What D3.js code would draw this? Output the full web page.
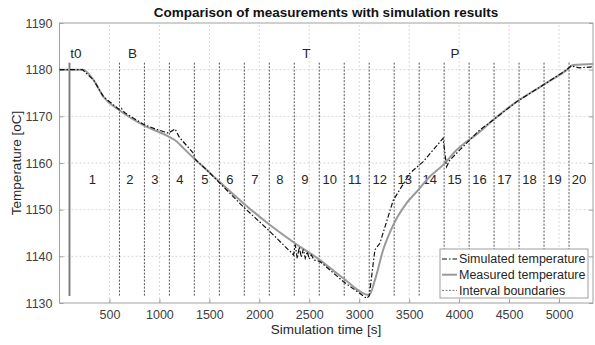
<!DOCTYPE html>
<html>
<head>
<meta charset="utf-8">
<script src="https://cdn.jsdelivr.net/npm/d3@7"></script>
<style>
  body { margin: 0; background: #fff; }
  text { font-family: "Liberation Sans", Arial, sans-serif; }
</style>
</head>
<body>
<script>
// values
const simulated = [
  [0,1180],[230,1180],[340,1177.8],[440,1174.2],[600,1171.4],[620,1171.7],[650,1170.8],
  [840,1168.3],[957,1167.3],[1090,1166.4],[1157,1167.3],[1200,1165.5],[1340,1162.1],
  [1357,1160.8],[1474,1158.5],[1590,1156.0],[1840,1150.6],[2107,1145.3],[2343,1140.3],
  [2360,1142.5],[2380,1139.5],[2400,1142],[2420,1139.8],[2440,1141.5],[2460,1139.6],
  [2480,1141],[2500,1139.4],[2520,1140.3],[2550,1139.2],[2607,1138.9],[2840,1134.6],
  [3074,1131.0],[3100,1131.5],[3157,1141.4],[3207,1142.8],[3340,1152],[3507,1157.8],
  [3640,1160.3],[3840,1165.3],[3874,1159.2],[3907,1160.6],[4007,1162.8],[4207,1167.1],
  [4340,1169.2],[4574,1173.1],[4840,1176.7],[5074,1179.9],[5120,1180.8],[5200,1180.4],[5340,1180.6]
];
const measured = [
  [0,1180],[234,1180],[340,1177.8],[440,1174.2],[607,1171.2],[840,1168.1],[1107,1165.5],
  [1174,1164.6],[1207,1163.9],[1340,1161.1],[1474,1158.5],[1590,1156.2],[1840,1151.4],
  [2107,1146.7],[2357,1142.8],[2607,1139.2],[2840,1135.3],[3100,1131.7],[3157,1134.9],
  [3240,1141.4],[3340,1146.7],[3474,1151.4],[3590,1154.2],[3707,1157.1],[3840,1159.6],
  [3900,1161.0],[3957,1162.4],[4207,1166.7],[4340,1169.2],[4574,1173.1],[4840,1176.7],
  [5074,1179.9],[5140,1181.0],[5340,1181.2]
];
const t0 = 100;
const boundaries = [600,850,1100,1350,1600,1850,2100,2350,2600,2850,3100,3350,3600,3850,4100,4350,4600,4850,5100];
const intervalNames = d3.range(1, 21).map(String);
const phaseLabels = [["t0",165],["B",730],["T",2470],["P",3960]];
const xTicks = [500,1000,1500,2000,2500,3000,3500,4000,4500,5000];
const yTicks = [1130,1140,1150,1160,1170,1180,1190];

const W = 595, H = 345;
const x = d3.scaleLinear().domain([0, 5340]).range([59.5, 593]);
const y = d3.scaleLinear().domain([1130, 1190]).range([303, 23]);

const svg = d3.select("body").append("svg").attr("width", W).attr("height", H);

// grid
svg.append("g").selectAll("line").data(xTicks).join("line")
    .attr("x1", d => x(d)).attr("x2", d => x(d)).attr("y1", y(1130)).attr("y2", y(1190))
    .attr("stroke", "#d8d8d8").attr("stroke-dasharray", "2,2");
svg.append("g").selectAll("line").data(yTicks.slice(1, -1)).join("line")
    .attr("x1", x.range()[0]).attr("x2", x.range()[1]).attr("y1", d => y(d)).attr("y2", d => y(d))
    .attr("stroke", "#d8d8d8").attr("stroke-dasharray", "2,2");

// box
svg.append("rect").attr("x", x.range()[0]).attr("y", y(1190))
    .attr("width", x.range()[1] - x.range()[0]).attr("height", y(1130) - y(1190))
    .attr("fill", "none").attr("stroke", "#a0a0a0");

// axes
svg.append("g").attr("transform", `translate(0,${y(1130)})`)
    .call(d3.axisBottom(x).tickValues(xTicks).tickSize(-4).tickPadding(7).tickFormat(d3.format("d")));
svg.append("g").attr("transform", `translate(${x.range()[0]},0)`)
    .call(d3.axisLeft(y).tickValues(yTicks).tickSize(-4).tickPadding(7).tickFormat(d3.format("d")));
svg.append("g").attr("transform", `translate(${x.range()[1]},0)`)
    .call(d3.axisRight(y).tickValues(yTicks).tickSize(-4).tickFormat(""));
svg.selectAll(".domain").remove();
svg.selectAll(".tick line").attr("stroke", "#a0a0a0");
svg.selectAll(".tick text").attr("fill", "#404040").attr("font-size", 12.5)
    .attr("font-family", "Liberation Sans, Arial, sans-serif");

// interval boundaries
svg.append("g").selectAll("line").data(boundaries).join("line")
    .attr("x1", d => x(d)).attr("x2", d => x(d)).attr("y1", y(1181.5)).attr("y2", y(1131.5))
    .attr("stroke", "#555").attr("stroke-width", 1).attr("stroke-dasharray", "2,1.5");
svg.append("line")
    .attr("x1", x(t0)).attr("x2", x(t0)).attr("y1", y(1181.5)).attr("y2", y(1131.5))
    .attr("stroke", "#808080").attr("stroke-width", 2);

// interval numbers
const edges = [t0, ...boundaries, x.domain()[1]];
svg.append("g").selectAll("text").data(intervalNames).join("text")
    .attr("x", (d, i) => x((edges[i] + edges[i + 1]) / 2) - 2)
    .attr("y", y(1156.5)).attr("dy", "0.35em").attr("text-anchor", "middle")
    .attr("font-size", 13).attr("fill", "#262626").text(d => d);

svg.append("g").selectAll("text").data(phaseLabels).join("text")
    .attr("x", d => x(d[1])).attr("y", y(1183.5)).attr("dy", "0.35em").attr("text-anchor", "middle")
    .attr("font-size", 13.5).attr("fill", "#262626").text(d => d[0]);

// curves
const line = d3.line().x(d => x(d[0])).y(d => y(d[1]));
svg.append("path").datum(measured).attr("d", line.curve(d3.curveMonotoneX))
    .attr("fill", "none").attr("stroke", "#9a9a9a").attr("stroke-width", 2);
svg.append("path").datum(simulated).attr("d", line.curve(d3.curveLinear))
    .attr("fill", "none").attr("stroke", "#111").attr("stroke-width", 1.2)
    .attr("stroke-dasharray", "5,2,1.5,2");

// title and labels
svg.append("text").attr("x", 326).attr("y", 17).attr("text-anchor", "middle")
    .attr("font-size", 13.5).attr("font-weight", "bold").attr("fill", "#111")
    .text("Comparison of measurements with simulation results");
svg.append("text").attr("x", 326).attr("y", 334).attr("text-anchor", "middle")
    .attr("font-size", 13.5).attr("fill", "#262626").text("Simulation time [s]");
svg.append("text").attr("transform", `translate(21,${y(1160)}) rotate(-90)`)
    .attr("text-anchor", "middle").attr("font-size", 13.5).attr("fill", "#262626")
    .text("Temperature [oC]");

// legend
const legendItems = [
  {name: "Simulated temperature", stroke: "#111", width: 1.2, dash: "5,2,1.5,2"},
  {name: "Measured temperature", stroke: "#9a9a9a", width: 2, dash: null},
  {name: "Interval boundaries", stroke: "#777", width: 1, dash: "2,1.5"}
];
const lg = svg.append("g").attr("transform", "translate(440,249)");
lg.append("rect").attr("width", 148).attr("height", 49)
    .attr("fill", "#fff").attr("stroke", "#a0a0a0");
const li = lg.selectAll("g").data(legendItems).join("g")
    .attr("transform", (d, i) => `translate(0,${10 + i * 15.7})`);
li.append("line").attr("x1", 2).attr("x2", 17)
    .attr("stroke", d => d.stroke).attr("stroke-width", d => d.width)
    .attr("stroke-dasharray", d => d.dash);
li.append("text").attr("x", 19).attr("dy", "0.35em").attr("font-size", 12.5)
    .attr("fill", "#262626").text(d => d.name);
</script>
</body>
</html>
